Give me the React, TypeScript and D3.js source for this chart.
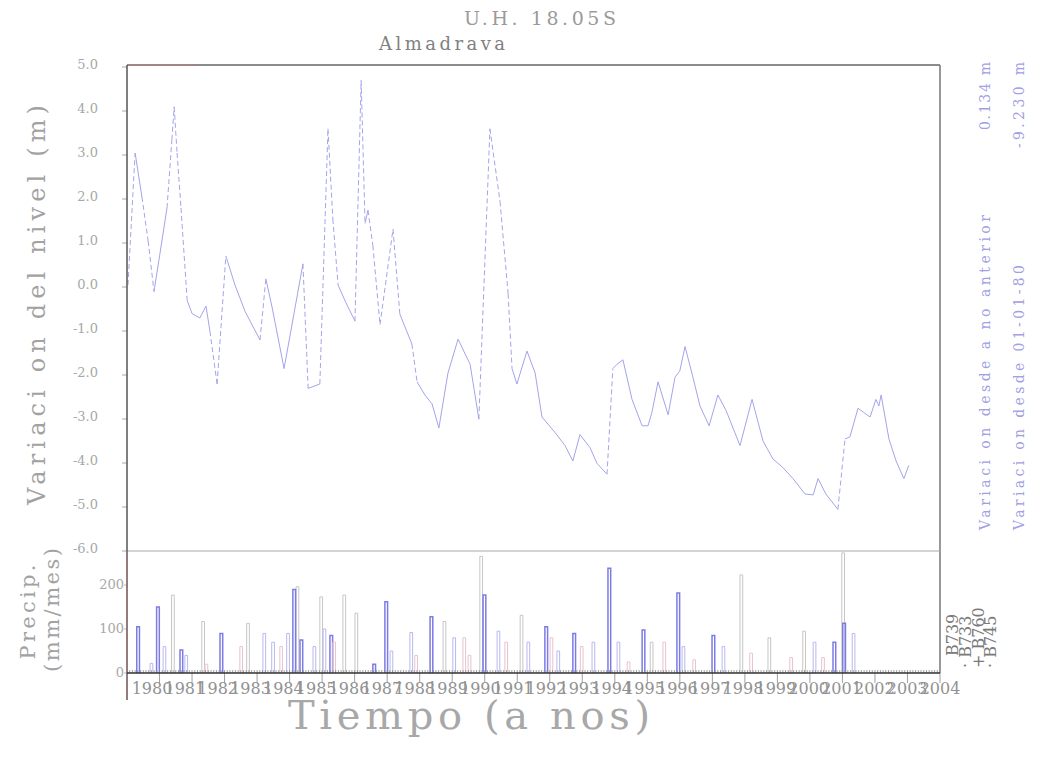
import * as d3 from "d3";

// nivel piezometrico (variacion respecto a 01-01-80, m)
const LEVEL_T = [
  1980.03, 1980.25, 1980.46, 1980.65, 1980.83, 1981.01, 1981.23, 1981.38, 1981.45, 1981.54,
  1981.66, 1981.85, 1982.0, 1982.24, 1982.43, 1982.55, 1982.77, 1983.04, 1983.32, 1983.63,
  1984.09, 1984.27, 1984.46, 1984.83, 1985.41, 1985.57, 1985.93, 1986.18, 1986.33, 1986.49,
  1986.73, 1987.01, 1987.2, 1987.32, 1987.41, 1987.56, 1987.78, 1988.18, 1988.39, 1988.76,
  1988.92, 1989.16, 1989.38, 1989.59, 1989.87, 1990.18, 1990.55, 1990.82, 1991.16, 1991.47,
  1991.72, 1991.84, 1991.99, 1992.3, 1992.55, 1992.76, 1993.16, 1993.47, 1993.71, 1993.93,
  1994.24, 1994.45, 1994.76, 1994.94, 1995.07, 1995.25, 1995.53, 1995.84, 1996.02, 1996.14,
  1996.33, 1996.64, 1996.85, 1997.0, 1997.16, 1997.37, 1997.62, 1997.9, 1998.17, 1998.42,
  1998.85, 1999.22, 1999.56, 1999.86, 2000.17, 2000.48, 2000.85, 2001.1, 2001.25, 2001.49,
  2001.86, 2002.08, 2002.23, 2002.48, 2002.66, 2002.85, 2003.03, 2003.12, 2003.19, 2003.43,
  2003.65, 2003.89, 2004.04,
];
const LEVEL_V = [
  0.0, 3.0, 2.0, 1.0, -0.15, 0.7, 1.75, 3.3, 4.05, 3.0,
  1.75, -0.35, -0.65, -0.75, -0.48, -1.05, -2.25, 0.66, 0.0, -0.6,
  -1.25, 0.14, -0.5, -1.9, 0.48, -2.35, -2.25, 3.55, 1.5, 0.0,
  -0.4, -0.82, 4.65, 1.4, 1.7, 0.9, -0.9, 1.27, -0.66, -1.34,
  -2.2, -2.5, -2.7, -3.25, -2.0, -1.23, -1.8, -3.05, 3.55, 1.9,
  -0.2, -1.9, -2.25, -1.5, -2.0, -3.0, -3.35, -3.65, -4.0, -3.4,
  -3.7, -4.05, -4.3, -1.9, -1.8, -1.7, -2.6, -3.2, -3.2, -2.9,
  -2.2, -2.95, -2.1, -1.95, -1.4, -2.0, -2.75, -3.2, -2.5, -2.85,
  -3.65, -2.6, -3.55, -3.95, -4.15, -4.4, -4.75, -4.77, -4.4, -4.75,
  -5.1, -3.5, -3.45, -2.8, -2.9, -3.0, -2.6, -2.75, -2.5, -3.5,
  -4.0, -4.4, -4.1,
];

// precipitacion mensual (mm/mes) por estacion
const B739_T = [1981.37, 1982.3, 1983.68, 1985.2, 1985.93, 1986.64, 1987.01, 1989.72, 1990.85, 1992.09, 1996.09, 1998.85, 1999.71, 2000.78, 2001.98];
const B739_V = [177, 117, 113, 196, 173, 177, 136, 117, 265, 131, 70, 223, 80, 95, 273];
const B733_T = [1980.3, 1980.91, 1981.63, 1982.86, 1985.1, 1985.32, 1986.24, 1987.56, 1987.93, 1989.32, 1990.95, 1992.85, 1993.71, 1994.79, 1995.84, 1996.91, 1997.99, 2001.71, 2002.01];
const B733_V = [105, 150, 52, 90, 190, 75, 85, 20, 162, 128, 177, 105, 90, 238, 98, 182, 85, 70, 113];
const B760_T = [1980.71, 1981.11, 1981.78, 1984.18, 1984.45, 1984.91, 1985.72, 1986.03, 1988.09, 1988.7, 1990.02, 1991.38, 1992.3, 1993.22, 1994.3, 1995.07, 1997.07, 1998.3, 2001.1, 2002.3];
const B760_V = [22, 60, 40, 90, 70, 90, 60, 100, 50, 92, 80, 95, 70, 50, 70, 70, 60, 60, 70, 90];
const B745_T = [1982.4, 1983.47, 1984.7, 1986.33, 1988.85, 1990.33, 1990.49, 1991.62, 1993.01, 1993.94, 1995.38, 1996.48, 1997.4, 1999.15, 2000.38, 2001.36];
const B745_V = [20, 60, 60, 70, 40, 80, 40, 70, 80, 60, 25, 70, 30, 45, 35, 35];

const YEAR_LABELS = [
  "1980", "1981", "1982", "1983", "1984", "1985", "1986", "1987", "1988", "1989", "1990", "1991",
  "1992", "1993", "1994", "1995", "1996", "1997", "1998", "1999", "2000", "2001", "2002", "2003", "2004",
];
const LEVEL_TICKS = [5, 4, 3, 2, 1, 0, -1, -2, -3, -4, -5, -6];
const PRECIP_TICKS = [0, 100, 200];

const stations = [
  { name: "B739", mark: "", t: B739_T, v: B739_V, color: "#c6c6c6", w: 1 },
  { name: "B733", mark: "· ", t: B733_T, v: B733_V, color: "#7c7ce4", w: 1.5 },
  { name: "B760", mark: "+ ", t: B760_T, v: B760_V, color: "#b8b8ef", w: 1 },
  { name: "B745", mark: "· ", t: B745_T, v: B745_V, color: "#e8c2cf", w: 1 },
];

const serif = "'DejaVu Serif', serif";

export default function App() {
  const x = d3.scaleLinear().domain([1980, 2005]).range([127, 940]);
  const xLab = d3.scaleLinear().domain([1980, 2004]).range([152, 940]);
  const yL = d3.scaleLinear().domain([-6, 5]).range([549, 65]);
  const yP = d3.scaleLinear().domain([0, 200]).range([673, 585]);

  const pts = LEVEL_T.map((t, i) => [x(t), yL(LEVEL_V[i]), t, LEVEL_V[i]]);
  const segs = pts.slice(1).map((p, i) => {
    const q = pts[i];
    const slope = Math.abs((p[3] - q[3]) / (p[2] - q[2]));
    return { x1: q[0], y1: q[1], x2: p[0], y2: p[1], dashed: slope > 5 };
  });

  const months = d3.range(0, 25 * 12).map((m) => 1980 + m / 12);
  const years = d3.range(1980, 2006);

  return (
    <div style={{ position: "absolute", left: 0, top: 0 }}>
      <svg width={1042} height={758} style={{ display: "block", background: "#fff" }}>
        {/* titles */}
        <text x={540} y={25} textAnchor="middle" fontFamily={serif} fontSize={19} fill="#9a9a9a"
          textLength={152} lengthAdjust="spacing">U.H.  18.05S</text>
        <text x={442} y={50} textAnchor="middle" fontFamily={serif} fontSize={18} fill="#808080"
          textLength={126} lengthAdjust="spacing">Almadrava</text>

        {/* left axis labels */}
        {LEVEL_TICKS.map((v) => (
          <g key={v}>
            <text x={98} y={yL(v) + 4} textAnchor="end" fontFamily={serif} fontSize={13} fill="#a8a8a8">
              {v.toFixed(1)}
            </text>
            <line x1={122} x2={127} y1={yL(v) + 2} y2={yL(v) + 2} stroke="#aaa" />
          </g>
        ))}
        {PRECIP_TICKS.map((v) => (
          <g key={"p" + v}>
            <text x={124} y={yP(v) + 4} textAnchor="end" fontFamily={serif} fontSize={13} fill="#a8a8a8">
              {v}
            </text>
            <line x1={124} x2={127} y1={yP(v)} y2={yP(v)} stroke="#bbb" />
          </g>
        ))}

        {/* axis titles */}
        <text transform="translate(45,305) rotate(-90)" textAnchor="middle" fontFamily={serif} fontSize={24}
          fill="#a2a2a2" textLength={400} lengthAdjust="spacing">Variaci on del nivel (m)</text>
        <text transform="translate(35,612) rotate(-90)" textAnchor="middle" fontFamily={serif} fontSize={21}
          fill="#a2a2a2" textLength={95} lengthAdjust="spacing">Precip.</text>
        <text transform="translate(59,610) rotate(-90)" textAnchor="middle" fontFamily={serif} fontSize={21}
          fill="#a2a2a2" textLength={124} lengthAdjust="spacing">(mm/mes)</text>
        <text x={469} y={729} textAnchor="middle" fontFamily={serif} fontSize={40} fill="#a8a8a8"
          textLength={362} lengthAdjust="spacing">Tiempo (a nos)</text>

        {/* right side notes */}
        <text transform="translate(990,530) rotate(-90)" fontFamily={serif} fontSize={14} fill="#a0a0e4"
          textLength={315} lengthAdjust="spacing">Variaci on desde a no anterior</text>
        <text transform="translate(990,130) rotate(-90)" fontFamily={serif} fontSize={14} fill="#a0a0e4"
          textLength={68} lengthAdjust="spacing">0.134 m</text>
        <text transform="translate(1024,530) rotate(-90)" fontFamily={serif} fontSize={14} fill="#a0a0e4"
          textLength={265} lengthAdjust="spacing">Variaci on desde 01-01-80</text>
        <text transform="translate(1024,148) rotate(-90)" fontFamily={serif} fontSize={14} fill="#a0a0e4"
          textLength={86} lengthAdjust="spacing">-9.230 m</text>

        {/* legend of stations */}
        {stations.map((s, i) => (
          <text key={s.name} transform={`translate(${958 + i * 12.8},${s.mark ? 668 : 656}) rotate(-90)`}
            fontFamily={serif} fontSize={16} fill="#7a7a7a">
            {s.mark + s.name}
          </text>
        ))}

        {/* precipitation bars */}
        {stations.map((s) => (
          <g key={"bars" + s.name} fill="none" stroke={s.color} strokeWidth={s.w}>
            {s.t.map((t, i) => (
              <path key={i}
                d={`M${x(t)},${yP(0)}V${yP(s.v[i])}H${x(t + 1 / 12)}V${yP(0)}`} />
            ))}
          </g>
        ))}

        {/* level series */}
        <g stroke="#a4a4ea" strokeWidth={1} fill="none">
          {segs.map((s, i) => (
            <line key={i} x1={s.x1} y1={s.y1} x2={s.x2} y2={s.y2}
              strokeDasharray={s.dashed ? "5,3" : undefined} />
          ))}
        </g>

        {/* frame */}
        <line x1={127} x2={940} y1={65} y2={65} stroke="#666" strokeWidth={1.5} />
        <line x1={127} x2={195} y1={65} y2={65} stroke="#d77" strokeWidth={1} opacity={0.6} />
        <line x1={940} x2={940} y1={65} y2={673} stroke="#777" strokeWidth={1.5} />
        <line x1={127} x2={940} y1={551} y2={551} stroke="#aaa" strokeWidth={1} />
        <line x1={127} x2={127} y1={65} y2={700} stroke="#555" strokeWidth={1.5} />
        <line x1={127} x2={127} y1={551} y2={700} stroke="#c77" strokeWidth={1} opacity={0.5} />

        {/* time axis */}
        <g stroke="#888">
          {months.map((m, i) => (
            <line key={i} x1={x(m)} x2={x(m)} y1={673} y2={670} strokeWidth={0.8} />
          ))}
          {years.map((yr) => (
            <line key={yr} x1={x(yr)} x2={x(yr)} y1={673} y2={683} strokeWidth={0.8} />
          ))}
        </g>
        <line x1={127} x2={940} y1={673} y2={673} stroke="#333" strokeWidth={1.6} />
        {YEAR_LABELS.map((lab, i) => (
          <text key={lab} x={xLab(1980 + i)} y={694} textAnchor="middle" fontFamily={serif} fontSize={16}
            fill="#929292">{lab}</text>
        ))}
      </svg>
    </div>
  );
}
